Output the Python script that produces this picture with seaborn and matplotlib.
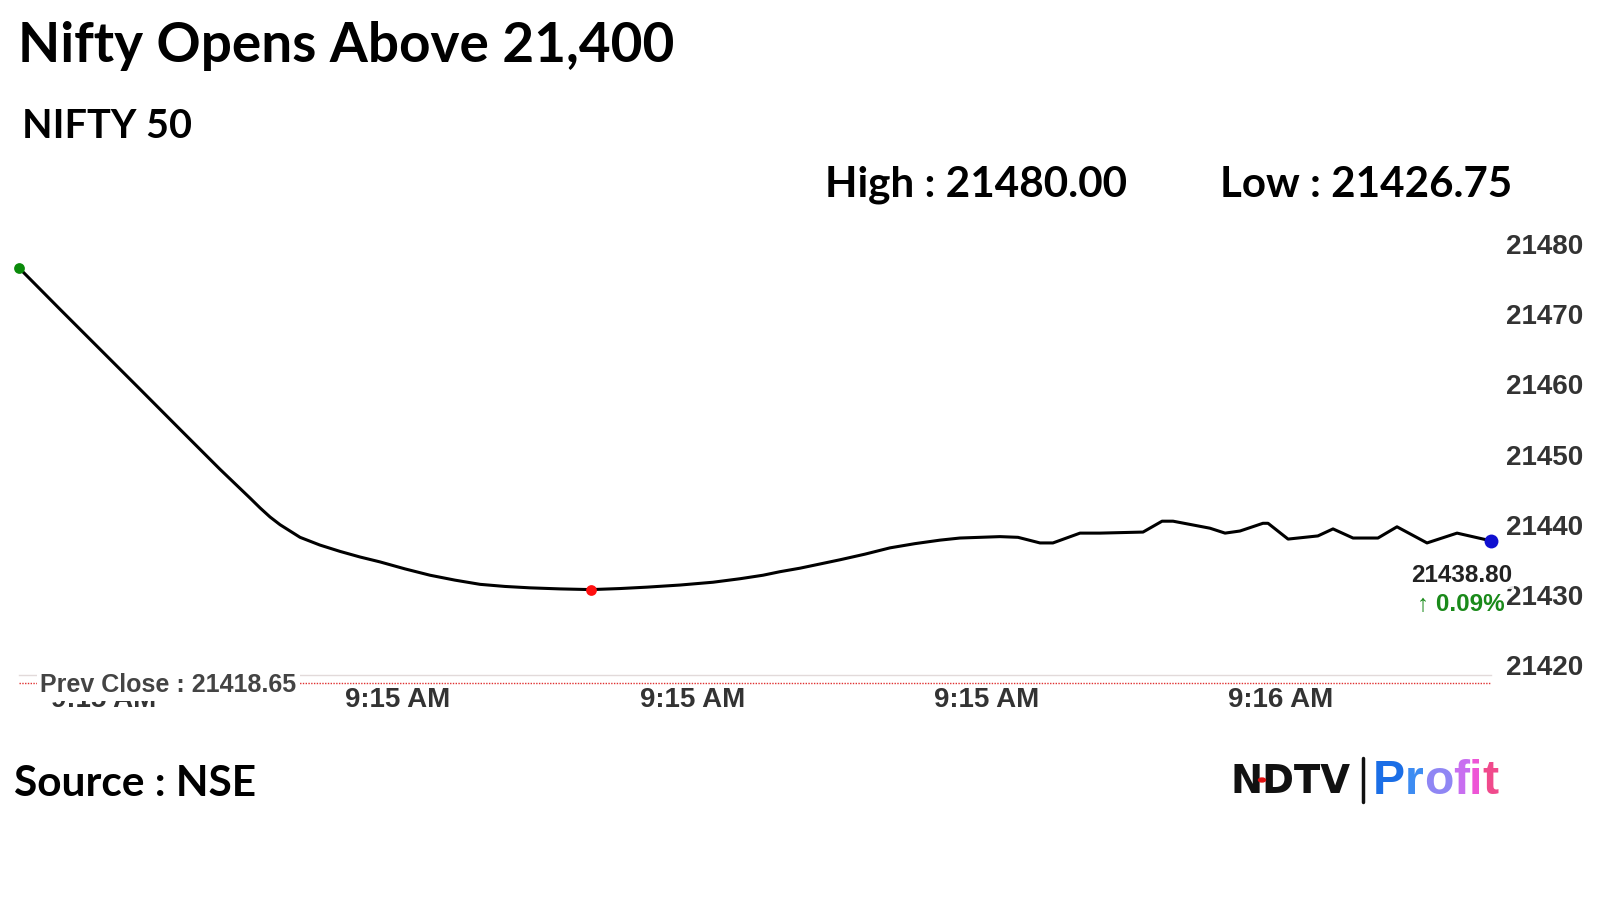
import matplotlib
matplotlib.use("Agg")
import matplotlib.pyplot as plt
import seaborn as sns
import pandas as pd
from matplotlib import font_manager as fm

# ---------------- data ----------------
seconds = [0, 2.09, 4.13, 6.17, 8.20, 10.24, 11.77, 12.28, 12.79, 13.30, 13.81, 14.32,
           15.33, 16.35, 17.37, 18.39, 19.67, 20.94, 22.21, 23.49, 24.76, 26.04, 27.56,
           29.14, 30.62, 32.00, 33.68, 35.36, 36.74, 37.91, 38.77, 39.79, 40.81, 41.83,
           43.10, 44.38, 45.65, 46.93, 47.94, 48.96, 49.98, 50.90, 52.02, 52.68, 54.06,
           55.08, 57.27, 58.24, 58.80, 60.68, 61.45, 62.21, 63.38, 63.64, 64.66, 66.18,
           66.95, 67.97, 69.24, 70.21, 71.74, 73.27, 75.0]
price = [21476.6, 21470.7, 21465.0, 21459.3, 21453.6, 21447.9, 21443.8, 21442.4, 21441.1,
         21440.0, 21439.1, 21438.2, 21437.1, 21436.2, 21435.4, 21434.7, 21433.7, 21432.8,
         21432.1, 21431.5, 21431.2, 21431.0, 21430.85, 21430.75, 21430.9, 21431.1, 21431.4,
         21431.8, 21432.3, 21432.8, 21433.3, 21433.8, 21434.4, 21435.0, 21435.8, 21436.7,
         21437.3, 21437.8, 21438.1, 21438.2, 21438.3, 21438.2, 21437.4, 21437.4, 21438.8,
         21438.8, 21438.95, 21440.5, 21440.5, 21439.5, 21438.8, 21439.1, 21440.2, 21440.2,
         21437.95, 21438.4, 21439.4, 21438.1, 21438.1, 21439.7, 21437.4, 21438.8, 21437.7]
band_edges = [0, 15, 30, 45, 60, 75]
tick_positions = [4.3, 19.3, 34.3, 49.3, 64.3]
tick_labels = ["9:15 AM", "9:15 AM", "9:15 AM", "9:15 AM", "9:16 AM"]
y_ticks = [21420, 21430, 21440, 21450, 21460, 21470, 21480]
prev_close = 21418.65
high_val = 21480.00
low_val = 21426.75
last_val = 21438.80
change_pct = 0.09
title = "Nifty Opens Above 21,400"
subtitle = "NIFTY 50"
source = "Source : NSE"

df = pd.DataFrame({"t": seconds, "price": price})

# ---------------- style ----------------
sns.set_theme(style="white")
plt.rcParams["font.family"] = ["Liberation Sans", "DejaVu Sans"]

names = {f.name for f in fm.fontManager.ttflist}
head = "Lato" if "Lato" in names else "DejaVu Sans"

W, H = 1600, 900
fig = plt.figure(figsize=(16, 9), dpi=100)
fig.patch.set_facecolor("white")

ax_left, ax_right = 19, 1491
ax_top, ax_bot = 230, 674.5
ax = fig.add_axes([ax_left / W, 1 - ax_bot / H, (ax_right - ax_left) / W, (ax_bot - ax_top) / H])
ax.set_facecolor("white")

sns.lineplot(data=df, x="t", y="price", ax=ax, color="black", linewidth=2.2, zorder=3)

imin = price.index(min(price))
ax.scatter([seconds[0]], [price[0]], s=60, color="#0a8a0a", zorder=5, linewidths=0, clip_on=False)
ax.scatter([seconds[imin]], [price[imin]], s=60, color="#ff1010", zorder=5, linewidths=0, clip_on=False)
ax.scatter([seconds[-1]], [price[-1]], s=100, color="#1010d0", zorder=5, linewidths=0, clip_on=False)

ax.set_xlim(band_edges[0], band_edges[-1])
ax.set_ylim(prev_close, 21482)
ax.set_xlabel("")
ax.set_ylabel("")

for s in ["top", "left", "right"]:
    ax.spines[s].set_visible(False)
ax.spines["bottom"].set_color("#e2dada")
ax.spines["bottom"].set_linewidth(1.0)

ax.set_xticks(tick_positions)
ax.set_xticklabels(tick_labels, fontweight="bold", fontsize=20, color="#333333")
ax.set_xticks(band_edges, minor=True)
ax.tick_params(axis="x", which="major", length=0, pad=9)
ax.tick_params(axis="x", which="minor", direction="in", length=6, width=1, color="#d8d0d0")

ax.yaxis.tick_right()
ax.set_yticks(y_ticks)
ax.set_yticklabels([str(v) for v in y_ticks], fontweight="bold", fontsize=20, color="#333333")
ax.tick_params(axis="y", length=0, pad=11)

# prev close dotted line just below baseline
ax.plot([0, 1], [-0.018, -0.018], transform=ax.transAxes, color="#e03030",
        linestyle=(0, (1, 1)), linewidth=1.0, clip_on=False, zorder=2)

ax.text(0.0145, -0.024, f"Prev Close : {prev_close:.2f}", transform=ax.transAxes,
        fontsize=18, fontweight="bold", color="#444444", va="center", ha="left",
        bbox=dict(facecolor="white", edgecolor="none", pad=2.5), zorder=6, clip_on=False)

# end value annotation
ax.annotate(f"{last_val:.2f}", xy=(seconds[-1], price[-1]), xytext=(-21, -25),
            textcoords="offset points", ha="center", va="center", fontsize=17.5,
            fontweight="bold", color="#222222", zorder=6,
            bbox=dict(facecolor="white", edgecolor="none", pad=1, alpha=0.85))
ax.annotate(f"\u2191 {change_pct:.2f}%", xy=(seconds[-1], price[-1]), xytext=(-21.5, -46),
            textcoords="offset points", ha="center", va="center", fontsize=17.5,
            fontweight="bold", color="#1a8a1a", zorder=6,
            bbox=dict(facecolor="white", edgecolor="none", pad=1, alpha=0.85))

renderer = fig.canvas.get_renderer()


def fit_text(s, x_px, y_px, width_px, **kw):
    t = fig.text(x_px / W, 1 - y_px / H, s, fontsize=20, va="center", ha="left", **kw)
    bb = t.get_window_extent(renderer)
    t.set_fontsize(20 * width_px / bb.width)
    return t


fit_text(title, 18, 46, 657, fontweight="bold", color="black", fontfamily=head)
fit_text(subtitle, 22, 127, 170, fontweight="bold", color="black", fontfamily=head)
fit_text(f"High : {high_val:.2f}", 825, 185, 303, fontweight="bold", color="black", fontfamily=head)
fit_text(f"Low : {low_val:.2f}", 1220, 185, 292, fontweight="bold", color="black", fontfamily=head)
fit_text(source, 14, 784, 242, fontweight="bold", color="black", fontfamily=head)

# logo
fit_text("NDTV", 1230, 782, 120, fontweight="heavy", color="#111111", fontfamily="DejaVu Sans")
fig.add_artist(plt.Circle((1262 / W, 1 - 780 / H), 0.0022, transform=fig.transFigure,
                          color="#e01010", zorder=10))
fig.add_artist(plt.Line2D([1363 / W, 1363 / W], [1 - 758 / H, 1 - 802 / H],
                          transform=fig.transFigure, color="#111111", linewidth=2.5))
profit_colors = ["#1b6ee6", "#3d8cf2", "#8f86f4", "#c86ef0", "#ee55d6", "#f04a8c"]
x_cur = 1373
pt = fig.text(0, 0, "Profit", fontsize=20, fontweight="bold", fontfamily="Liberation Sans")
bbw = pt.get_window_extent(renderer).width
pt.remove()
fs = 20 * 126 / bbw
for ch, c in zip("Profit", profit_colors):
    t = fig.text(x_cur / W, 1 - 781 / H, ch, fontsize=fs, fontweight="bold",
                 fontfamily="Liberation Sans", color=c, va="center", ha="left")
    x_cur += t.get_window_extent(renderer).width

fig.savefig("out.png", dpi=100, facecolor="white")
